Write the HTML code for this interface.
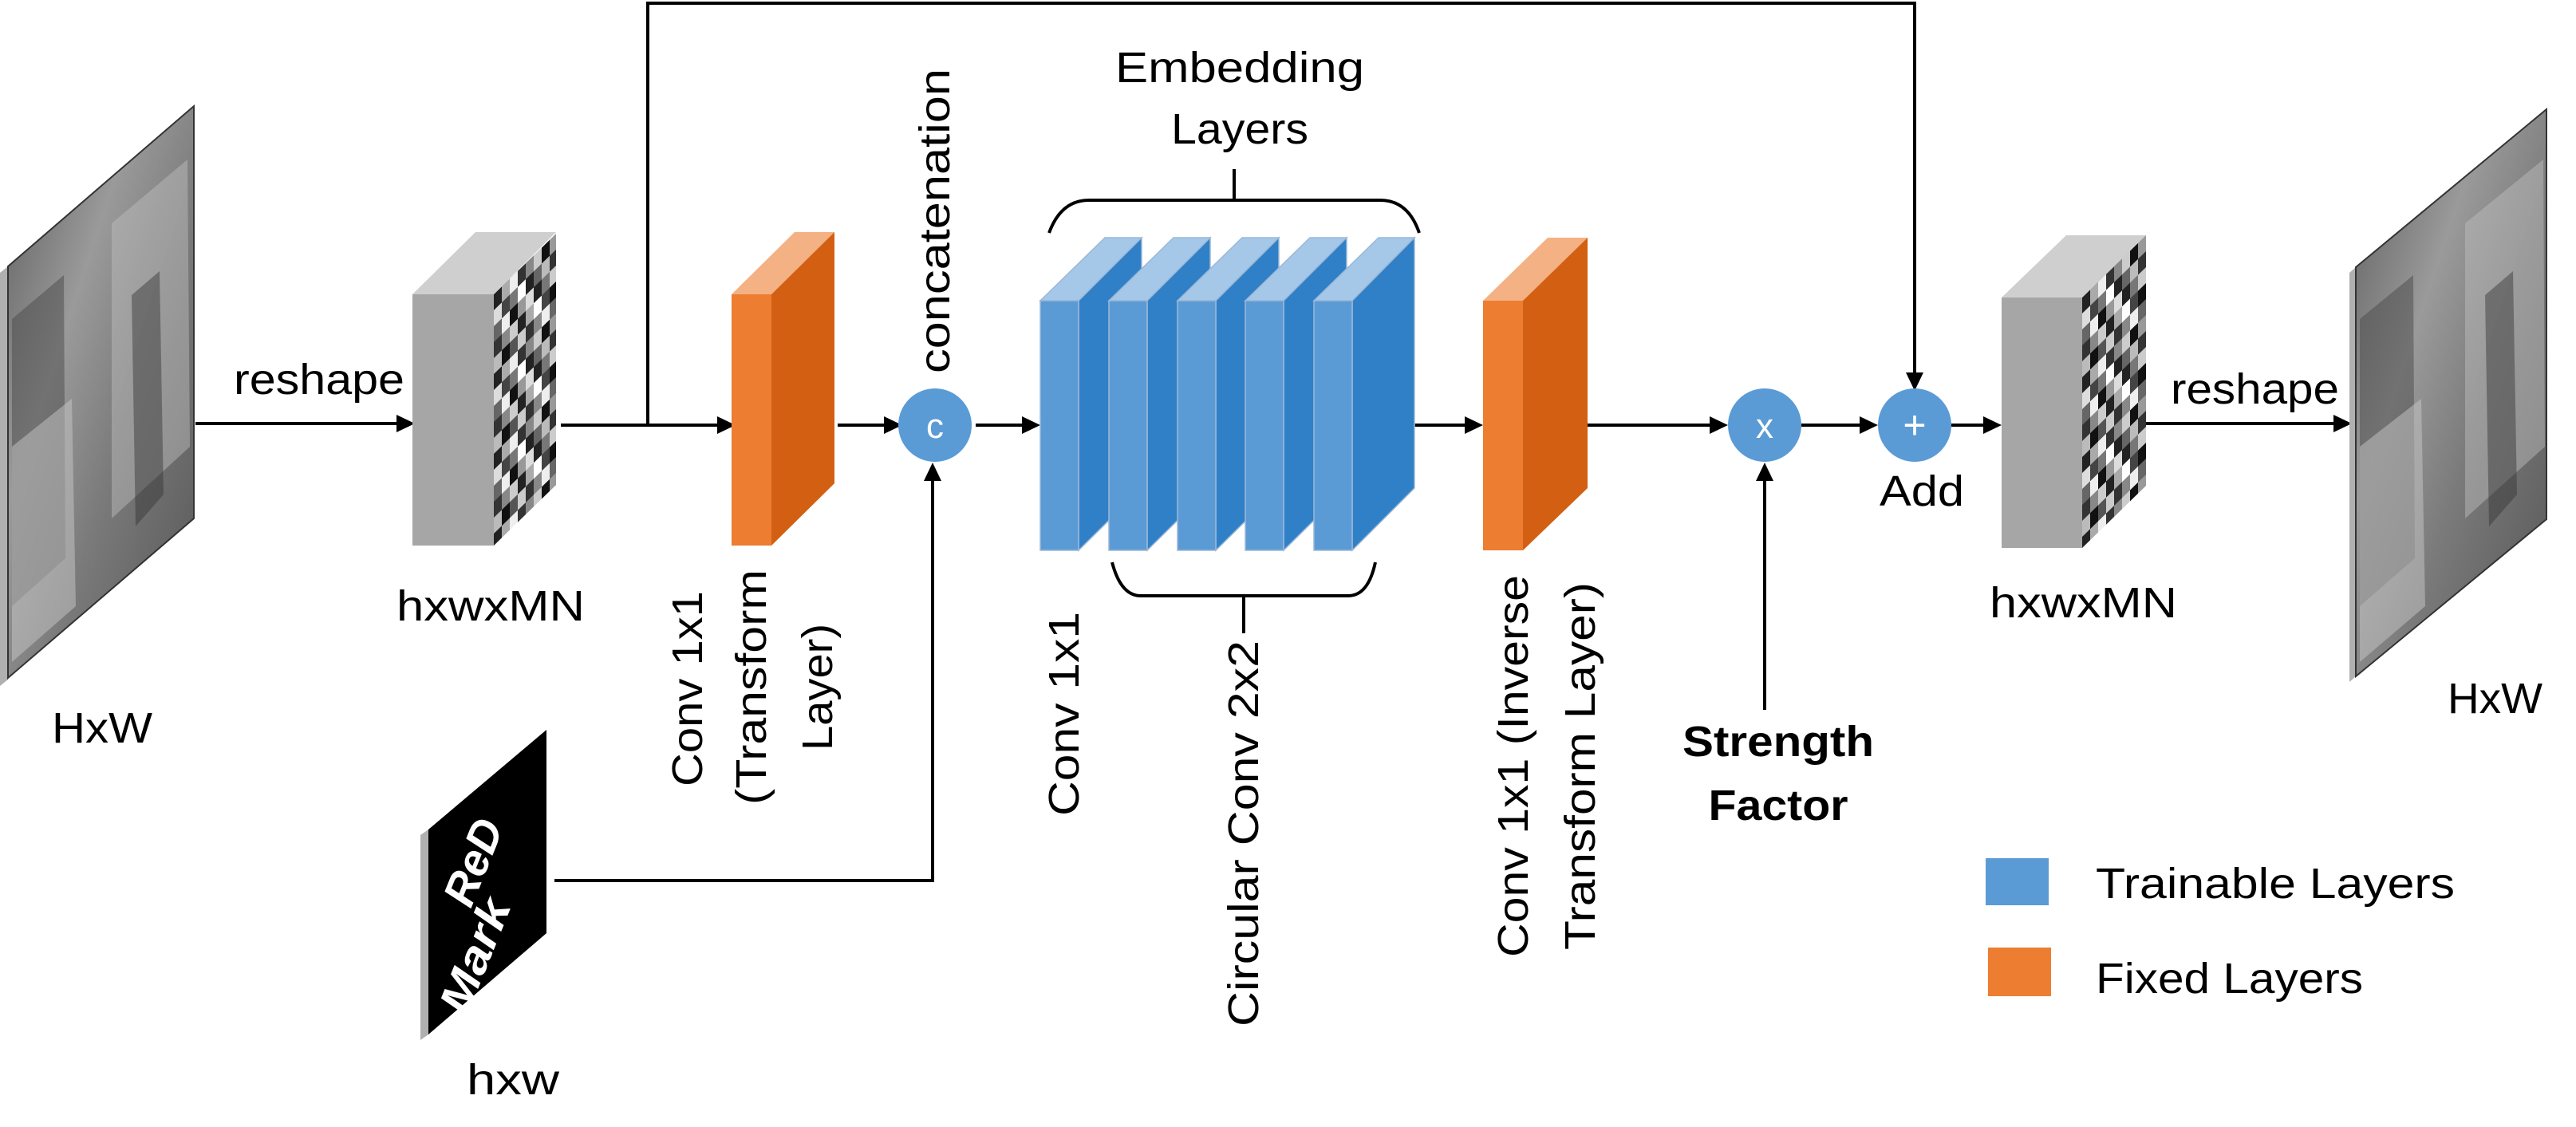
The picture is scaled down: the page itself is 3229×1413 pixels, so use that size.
<!DOCTYPE html>
<html><head><meta charset="utf-8"><style>
html,body{margin:0;padding:0;background:#fff;}
svg{display:block;}
text{font-family:"Liberation Sans",sans-serif;fill:#000;}
</style></head><body>
<svg width="3229" height="1413" viewBox="0 0 3229 1413" xmlns="http://www.w3.org/2000/svg">
<defs>
<pattern id="pix" width="80" height="100" patternUnits="userSpaceOnUse">
<rect width="80" height="100" fill="#555"/>
<rect x="0" y="0" width="10" height="20" fill="#222"/><rect x="10" y="0" width="10" height="20" fill="#aaa"/><rect x="20" y="0" width="10" height="20" fill="#eee"/><rect x="30" y="0" width="10" height="20" fill="#333"/><rect x="40" y="0" width="10" height="20" fill="#888"/><rect x="50" y="0" width="10" height="20" fill="#ccc"/><rect x="60" y="0" width="10" height="20" fill="#111"/><rect x="70" y="0" width="10" height="20" fill="#999"/>
<rect x="0" y="20" width="10" height="20" fill="#ddd"/><rect x="10" y="20" width="10" height="20" fill="#444"/><rect x="20" y="20" width="10" height="20" fill="#777"/><rect x="30" y="20" width="10" height="20" fill="#fff"/><rect x="40" y="20" width="10" height="20" fill="#222"/><rect x="50" y="20" width="10" height="20" fill="#666"/><rect x="60" y="20" width="10" height="20" fill="#bbb"/><rect x="70" y="20" width="10" height="20" fill="#333"/>
<rect x="0" y="40" width="10" height="20" fill="#666"/><rect x="10" y="40" width="10" height="20" fill="#eee"/><rect x="20" y="40" width="10" height="20" fill="#111"/><rect x="30" y="40" width="10" height="20" fill="#999"/><rect x="40" y="40" width="10" height="20" fill="#ddd"/><rect x="50" y="40" width="10" height="20" fill="#222"/><rect x="60" y="40" width="10" height="20" fill="#777"/><rect x="70" y="40" width="10" height="20" fill="#ccc"/>
<rect x="0" y="60" width="10" height="20" fill="#333"/><rect x="10" y="60" width="10" height="20" fill="#888"/><rect x="20" y="60" width="10" height="20" fill="#ccc"/><rect x="30" y="60" width="10" height="20" fill="#222"/><rect x="40" y="60" width="10" height="20" fill="#aaa"/><rect x="50" y="60" width="10" height="20" fill="#fff"/><rect x="60" y="60" width="10" height="20" fill="#444"/><rect x="70" y="60" width="10" height="20" fill="#111"/>
<rect x="0" y="80" width="10" height="20" fill="#bbb"/><rect x="10" y="80" width="10" height="20" fill="#111"/><rect x="20" y="80" width="10" height="20" fill="#555"/><rect x="30" y="80" width="10" height="20" fill="#ccc"/><rect x="40" y="80" width="10" height="20" fill="#333"/><rect x="50" y="80" width="10" height="20" fill="#888"/><rect x="60" y="80" width="10" height="20" fill="#eee"/><rect x="70" y="80" width="10" height="20" fill="#666"/>
</pattern>
<linearGradient id="photo" x1="0" y1="0" x2="1" y2="1">
<stop offset="0" stop-color="#5a5a5a"/><stop offset="0.35" stop-color="#9a9a9a"/><stop offset="0.6" stop-color="#7a7a7a"/><stop offset="1" stop-color="#555"/>
</linearGradient>
</defs>

<g stroke="#000" stroke-width="4" fill="none">
<line x1="245" y1="531" x2="500" y2="531"/>
<line x1="703" y1="533" x2="905" y2="533"/>
<polyline points="812,533 812,4 2400,4 2400,475"/>
<line x1="1050" y1="533" x2="1113" y2="533"/>
<line x1="1223" y1="533" x2="1288" y2="533"/>
<polyline points="695,1104 1169,1104 1169,600"/>
<line x1="1772" y1="533" x2="1842" y2="533"/>
<line x1="1990" y1="533" x2="2148" y2="533"/>
<line x1="2212" y1="890" x2="2212" y2="600"/>
<line x1="2258" y1="533" x2="2336" y2="533"/>
<line x1="2446" y1="533" x2="2492" y2="533"/>
<line x1="2690" y1="531" x2="2930" y2="531"/>
</g>
<g fill="#000">
<polygon points="520,531 497,520 497,542"/>
<polygon points="922,533 899,522 899,544"/>
<polygon points="1131,533 1108,522 1108,544"/>
<polygon points="1304,533 1281,522 1281,544"/>
<polygon points="1169,580 1158,603 1180,603"/>
<polygon points="1859,533 1836,522 1836,544"/>
<polygon points="2166,533 2143,522 2143,544"/>
<polygon points="2212,580 2201,603 2223,603"/>
<polygon points="2354,533 2331,522 2331,544"/>
<polygon points="2400,490 2389,467 2411,467"/>
<polygon points="2509,533 2486,522 2486,544"/>
<polygon points="2948,531 2925,520 2925,542"/>
</g>

<!-- left photo -->
<polygon points="0,342 10,334 10,852 0,860" fill="#b0b0b0"/>
<polygon points="10,334 243,133 243,650 10,850" fill="url(#photo)" stroke="#333" stroke-width="2"/>
<polygon points="15,400 80,345 82,700 15,760" fill="#4a4a4a" opacity="0.5"/>
<polygon points="15,560 90,500 95,760 15,830" fill="#c8c8c8" opacity="0.5"/>
<polygon points="140,280 235,200 238,560 140,650" fill="#c0c0c0" opacity="0.45"/>
<polygon points="165,370 200,340 205,620 170,660" fill="#333" opacity="0.45"/>

<!-- right photo -->
<polygon points="2945,342 2953,335 2953,848 2945,855" fill="#b0b0b0"/>
<polygon points="2953,335 3192,137 3192,651 2953,848" fill="url(#photo)" stroke="#333" stroke-width="2"/>
<polygon points="2958,400 3025,345 3027,700 2958,760" fill="#4a4a4a" opacity="0.5"/>
<polygon points="2958,560 3035,500 3040,760 2958,830" fill="#c8c8c8" opacity="0.5"/>
<polygon points="3090,280 3188,200 3190,560 3090,650" fill="#c0c0c0" opacity="0.45"/>
<polygon points="3115,370 3150,340 3155,620 3120,660" fill="#333" opacity="0.45"/>

<!-- block 1 -->
<polygon points="517,369 596,291 697,291 619,369" fill="#cfcfcf"/>
<rect x="517" y="369" width="102" height="315" fill="#a6a6a6"/>
<g transform="translate(619,369) matrix(1,-0.975,0,1,0,0)"><rect x="0" y="0" width="78" height="315" fill="url(#pix)"/></g>
<!-- block 3 -->
<polygon points="2509,373 2590,295 2690,295 2610,373" fill="#cfcfcf"/>
<rect x="2509" y="373" width="101" height="314" fill="#a6a6a6"/>
<g transform="translate(2610,373) matrix(1,-0.975,0,1,0,0)"><rect x="0" y="0" width="80" height="314" fill="url(#pix)"/></g>

<!-- orange 1 -->
<polygon points="917,369 996,291 1046,291 967,369" fill="#f4b183"/>
<polygon points="967,369 1046,291 1046,606 967,684" fill="#d35f12"/>
<rect x="917" y="369" width="50" height="315" fill="#ed7d31"/>
<!-- orange 2 -->
<polygon points="1859,377 1940,298 1990,298 1909,377" fill="#f4b183"/>
<polygon points="1909,377 1990,298 1990,612 1909,690" fill="#d35f12"/>
<rect x="1859" y="377" width="50" height="313" fill="#ed7d31"/>

<!-- blue blocks -->
<g stroke="#9cb8d6" stroke-width="1.5">
<polygon points="1304,377 1385,298 1431,298 1352,377" fill="#a5c8e8"/><polygon points="1352,377 1431,298 1431,612 1352,690" fill="#3080c8"/><rect x="1304" y="377" width="48" height="313" fill="#5b9bd5"/>
<polygon points="1390,377 1471,298 1517,298 1438,377" fill="#a5c8e8"/><polygon points="1438,377 1517,298 1517,612 1438,690" fill="#3080c8"/><rect x="1390" y="377" width="48" height="313" fill="#5b9bd5"/>
<polygon points="1476,377 1557,298 1603,298 1524,377" fill="#a5c8e8"/><polygon points="1524,377 1603,298 1603,612 1524,690" fill="#3080c8"/><rect x="1476" y="377" width="48" height="313" fill="#5b9bd5"/>
<polygon points="1561,377 1642,298 1688,298 1609,377" fill="#a5c8e8"/><polygon points="1609,377 1688,298 1688,612 1609,690" fill="#3080c8"/><rect x="1561" y="377" width="48" height="313" fill="#5b9bd5"/>
<polygon points="1647,377 1728,298 1773,298 1695,377" fill="#a5c8e8"/><polygon points="1695,377 1773,298 1773,612 1695,690" fill="#3080c8"/><rect x="1647" y="377" width="48" height="313" fill="#5b9bd5"/>
</g>

<g stroke="#000" stroke-width="4" fill="none">
<path d="M1315,292 Q1330,251 1365,251 L1730,251 Q1765,251 1779,292"/>
<line x1="1547" y1="251" x2="1547" y2="212"/>
<path d="M1394,705 Q1405,747 1430,747 L1690,747 Q1715,747 1724,705"/>
<line x1="1559" y1="747" x2="1559" y2="794"/>
</g>

<!-- RedMark -->
<polygon points="527,1047 537,1040 537,1297 527,1304" fill="#b0b0b0"/>
<polygon points="537,1040 685,915 685,1170 537,1297" fill="#000"/>
<text transform="translate(590,1140) rotate(-68)" font-family="Liberation Serif,serif" font-style="italic" font-weight="bold" font-size="56" style="fill:#fff">ReD</text>
<text transform="translate(585,1275) rotate(-68)" font-family="Liberation Serif,serif" font-style="italic" font-weight="bold" font-size="56" style="fill:#fff" textLength="150" lengthAdjust="spacingAndGlyphs">Mark</text>

<!-- circles -->
<circle cx="1172" cy="533" r="46" fill="#5b9bd5"/>
<circle cx="2212" cy="533" r="46" fill="#5b9bd5"/>
<circle cx="2400" cy="533" r="46" fill="#5b9bd5"/>
<text x="1172" y="549" font-size="44" text-anchor="middle" style="fill:#fff">c</text>
<text x="2212" y="549" font-size="44" text-anchor="middle" style="fill:#fff">x</text>
<text x="2400" y="550" font-size="50" text-anchor="middle" style="fill:#fff">+</text>

<g font-size="54">
<text x="293" y="494" textLength="214" lengthAdjust="spacingAndGlyphs">reshape</text>
<text x="2721" y="506" textLength="211" lengthAdjust="spacingAndGlyphs">reshape</text>
<text x="497" y="778" textLength="236" lengthAdjust="spacingAndGlyphs">hxwxMN</text>
<text x="2494" y="774" textLength="235" lengthAdjust="spacingAndGlyphs">hxwxMN</text>
<text x="65" y="931" textLength="126" lengthAdjust="spacingAndGlyphs">HxW</text>
<text x="3068" y="894" textLength="119" lengthAdjust="spacingAndGlyphs">HxW</text>
<text x="585" y="1372" textLength="116" lengthAdjust="spacingAndGlyphs">hxw</text>
<text x="2409" y="634" text-anchor="middle" textLength="106" lengthAdjust="spacingAndGlyphs">Add</text>
<text x="1554" y="103" text-anchor="middle" textLength="312" lengthAdjust="spacingAndGlyphs">Embedding</text>
<text x="1554" y="180" text-anchor="middle" textLength="172" lengthAdjust="spacingAndGlyphs">Layers</text>
<text x="2229" y="948" text-anchor="middle" font-weight="bold" textLength="240" lengthAdjust="spacingAndGlyphs">Strength</text>
<text x="2229" y="1028" text-anchor="middle" font-weight="bold" textLength="175" lengthAdjust="spacingAndGlyphs">Factor</text>
<text x="2627" y="1126" textLength="450" lengthAdjust="spacingAndGlyphs">Trainable Layers</text>
<text x="2627" y="1245" textLength="335" lengthAdjust="spacingAndGlyphs">Fixed Layers</text>
<text transform="translate(1190,468) rotate(-90)" textLength="382" lengthAdjust="spacingAndGlyphs">concatenation</text>
<text transform="translate(880,986) rotate(-90)" textLength="245" lengthAdjust="spacingAndGlyphs">Conv 1x1</text>
<text transform="translate(960,1009) rotate(-90)" textLength="295" lengthAdjust="spacingAndGlyphs">(Transform</text>
<text transform="translate(1043,941) rotate(-90)" textLength="159" lengthAdjust="spacingAndGlyphs">Layer)</text>
<text transform="translate(1352,1023) rotate(-90)" textLength="256" lengthAdjust="spacingAndGlyphs">Conv  1x1</text>
<text transform="translate(1577,1287) rotate(-90)" textLength="484" lengthAdjust="spacingAndGlyphs">Circular Conv  2x2</text>
<text transform="translate(1915,1200) rotate(-90)" textLength="479" lengthAdjust="spacingAndGlyphs">Conv 1x1 (Inverse</text>
<text transform="translate(1999,1191) rotate(-90)" textLength="461" lengthAdjust="spacingAndGlyphs">Transform Layer)</text>
</g>
<rect x="2489" y="1076" width="79" height="59" fill="#5b9bd5"/>
<rect x="2492" y="1188" width="79" height="61" fill="#ed7d31"/>
</svg>
</body></html>
